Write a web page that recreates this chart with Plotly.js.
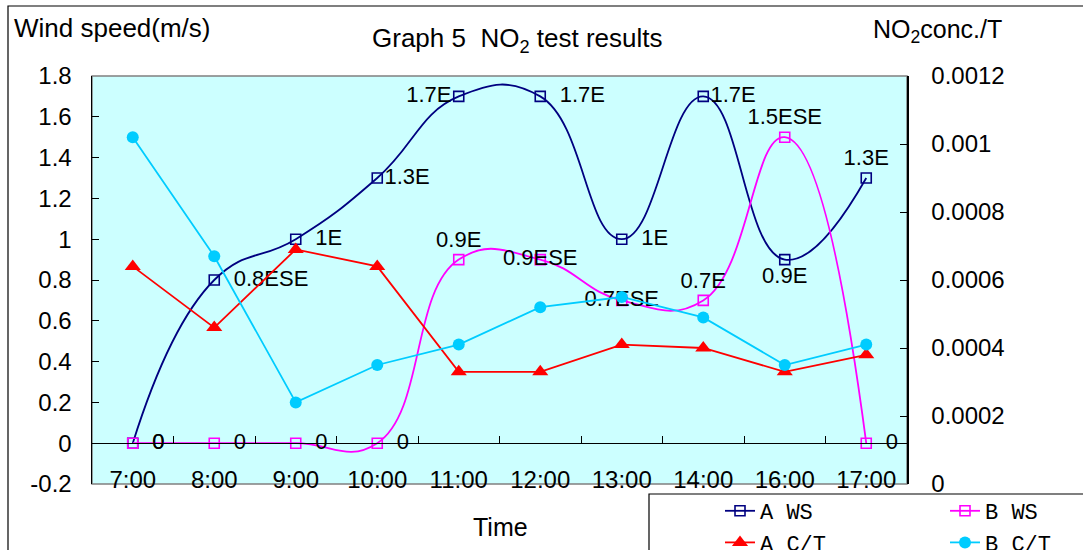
<!DOCTYPE html>
<html>
<head>
<meta charset="utf-8">
<script src="https://cdn.plot.ly/plotly-3.0.1.min.js"></script>
<style>html,body{margin:0;padding:0;background:#fff;}#chart{width:1083px;height:550px;}</style>
</head>
<body>
<div id="chart"></div>
<script>
// ---- data ----
const times = ["7:00","8:00","9:00","10:00","11:00","12:00","13:00","14:00","16:00","17:00"];
const aWS = [0, 0.8, 1.0, 1.3, 1.7, 1.7, 1.0, 1.7, 0.9, 1.3];
const aWSLabels = ["0","0.8ESE","1E","1.3E","1.7E","1.7E","1E","1.7E","0.9E","1.3E"];
const bWS = [0, 0, 0, 0, 0.9, 0.9, 0.7, 0.7, 1.5, 0];
const bWSLabels = ["0","0","0","0","0.9E","0.9ESE","0.7ESE","0.7E","1.5ESE","0"];
const aCT = [0.00064, 0.00046, 0.00069, 0.00064, 0.00033, 0.00033, 0.00041, 0.00040, 0.00033, 0.00038];
const bCT = [0.00102, 0.00067, 0.00024, 0.00035, 0.00041, 0.00052, 0.00055, 0.00049, 0.00035, 0.00041];
const leftTickVals = [-0.2, 0, 0.2, 0.4, 0.6, 0.8, 1.0, 1.2, 1.4, 1.6, 1.8];
const leftTickText = ["-0.2","0","0.2","0.4","0.6","0.8","1","1.2","1.4","1.6","1.8"];
const rightTickVals = [0, 0.0002, 0.0004, 0.0006, 0.0008, 0.001, 0.0012];
const rightTickText = ["0","0.0002","0.0004","0.0006","0.0008","0.001","0.0012"];

// ---- label placement (style only) ----
const aWSPos = ['middle right','middle right','middle right','middle right','middle left','middle right','middle right','middle right','bottom center','top center'];
const bWSPos = ['middle right','middle right','middle right','middle right','top center','middle center','middle center','top center','top center','middle right'];
const aWSGap = [2,2,2,0,0,2,2,0,0,0];
const bWSGap = [2,2,2,2,0,0,0,0,0,2];
const pad = (labels, gaps) => labels.map((t, i) => "\u00a0".repeat(gaps[i]) + t);

// ---- layout geometry (pixels) ----
const W = 1083, H = 550, ML = 92, MR = 176, MT = 76, MB = 66;
const PW = W - ML - MR, PH = H - MT - MB;
const px = x => (x - ML) / PW;           // pixel x -> paper
const py = y => (H - MB - y) / PH;        // pixel y -> paper

const FONT = "Liberation Sans, Arial, sans-serif";
const LFONT = "Liberation Mono, DejaVu Sans Mono, monospace";
const SMOOTH = 1.3;

const traces = [
  {
    name: "A WS", x: times, y: aWS, text: pad(aWSLabels, aWSGap), textposition: aWSPos,
    mode: "lines+markers+text", type: "scatter", yaxis: "y", legend: "legend",
    line: {color: "#000080", width: 1.8, shape: "spline", smoothing: SMOOTH},
    marker: {symbol: "square-open", size: 10, color: "#000080", line: {width: 1.6, color: "#000080"}},
    textfont: {family: FONT, size: 22, color: "#000"}, cliponaxis: false
  },
  {
    name: "B WS", x: times, y: bWS, text: pad(bWSLabels, bWSGap), textposition: bWSPos,
    mode: "lines+markers+text", type: "scatter", yaxis: "y", legend: "legend2",
    line: {color: "#FF00FF", width: 1.8, shape: "spline", smoothing: SMOOTH},
    marker: {symbol: "square-open", size: 10, color: "#FF00FF", line: {width: 1.6, color: "#FF00FF"}},
    textfont: {family: FONT, size: 22, color: "#000"}, cliponaxis: false
  },
  {
    name: "A C/T", x: times, y: aCT,
    mode: "lines+markers", type: "scatter", yaxis: "y2", legend: "legend",
    line: {color: "#FF0000", width: 1.8},
    marker: {symbol: "triangle-up", size: 14, color: "#FF0000"}
  },
  {
    name: "B C/T", x: times, y: bCT,
    mode: "lines+markers", type: "scatter", yaxis: "y2", legend: "legend2",
    line: {color: "#00CCFF", width: 1.8},
    marker: {symbol: "circle", size: 12, color: "#00CCFF"}
  }
];

const legendCommon = {
  orientation: "v", xanchor: "left", yanchor: "top",
  bgcolor: "rgba(0,0,0,0)", borderwidth: 0,
  font: {family: LFONT, size: 22, color: "#000"}
};

const layout = {
  width: W, height: H,
  margin: {l: ML, r: MR, t: MT, b: MB, autoexpand: false},
  paper_bgcolor: "#FFFFFF",
  plot_bgcolor: "#CCFFFF",
  font: {family: FONT, color: "#000"},
  showlegend: true,
  title: {
    text: "Graph 5\u00a0\u00a0NO<sub>2</sub> test results",
    font: {family: FONT, size: 26, color: "#000"},
    xref: "paper", x: px(372), xanchor: "left",
    yref: "container", y: 1 - 38 / H, yanchor: "middle"
  },
  xaxis: {
    type: "category", range: [-0.5, 9.5],
    anchor: "free", position: 0.1,
    showline: true, linecolor: "#000", linewidth: 1.2,
    ticks: "inside", ticklen: 7, tickcolor: "#000", tickwidth: 1, tickson: "boundaries",
    ticklabelstandoff: 15,
    tickfont: {family: FONT, size: 24, color: "#000"},
    showgrid: false, zeroline: false, fixedrange: true
  },
  yaxis: {
    range: [-0.2, 1.8], tickvals: leftTickVals, ticktext: leftTickText,
    showline: true, linecolor: "#000", linewidth: 1.5,
    ticks: "inside", ticklen: 7, tickcolor: "#000",
    ticklabelstandoff: 14,
    tickfont: {family: FONT, size: 24, color: "#000"},
    showgrid: false, zeroline: false, fixedrange: true
  },
  yaxis2: {
    range: [0, 0.0012], tickvals: rightTickVals, ticktext: rightTickText,
    overlaying: "y", side: "right",
    showline: true, linecolor: "#000", linewidth: 1.5,
    ticks: "inside", ticklen: 7, tickcolor: "#000",
    ticklabelstandoff: 18,
    tickfont: {family: FONT, size: 24, color: "#000"},
    showgrid: false, zeroline: false, fixedrange: true
  },
  legend: Object.assign({}, legendCommon, {x: px(720), y: py(490)}),
  legend2: Object.assign({}, legendCommon, {x: px(945), y: py(490)}),
  shapes: [
    // plot area frame
    {type: "rect", xref: "paper", yref: "paper", x0: 0, x1: 1, y0: 0, y1: 1,
     line: {color: "#808080", width: 1.5}, layer: "below"},
    // outer chart border
    {type: "rect", xref: "paper", yref: "paper", x0: px(8), x1: px(1100), y0: py(570), y1: py(6),
     line: {color: "#000", width: 1.2}, layer: "above"},
    // legend box
    {type: "rect", xref: "paper", yref: "paper", x0: px(649), x1: px(1100), y0: py(570), y1: py(494),
     line: {color: "#000", width: 1.2}, layer: "above"}
  ],
  annotations: [
    {text: "Wind speed(m/s)", xref: "paper", yref: "paper", x: px(12), y: py(28),
     xanchor: "left", yanchor: "middle", showarrow: false, font: {family: FONT, size: 26, color: "#000"}},
    {text: "NO<sub>2</sub>conc./T", xref: "paper", yref: "paper", x: px(871), y: py(31),
     xanchor: "left", yanchor: "middle", showarrow: false, font: {family: FONT, size: 25, color: "#000"}},
    {text: "Time", xref: "paper", yref: "paper", x: px(500), y: py(527),
     xanchor: "center", yanchor: "middle", showarrow: false, font: {family: FONT, size: 25, color: "#000"}}
  ]
};

Plotly.newPlot("chart", traces, layout, {displayModeBar: false, staticPlot: true});
</script>
</body>
</html>
